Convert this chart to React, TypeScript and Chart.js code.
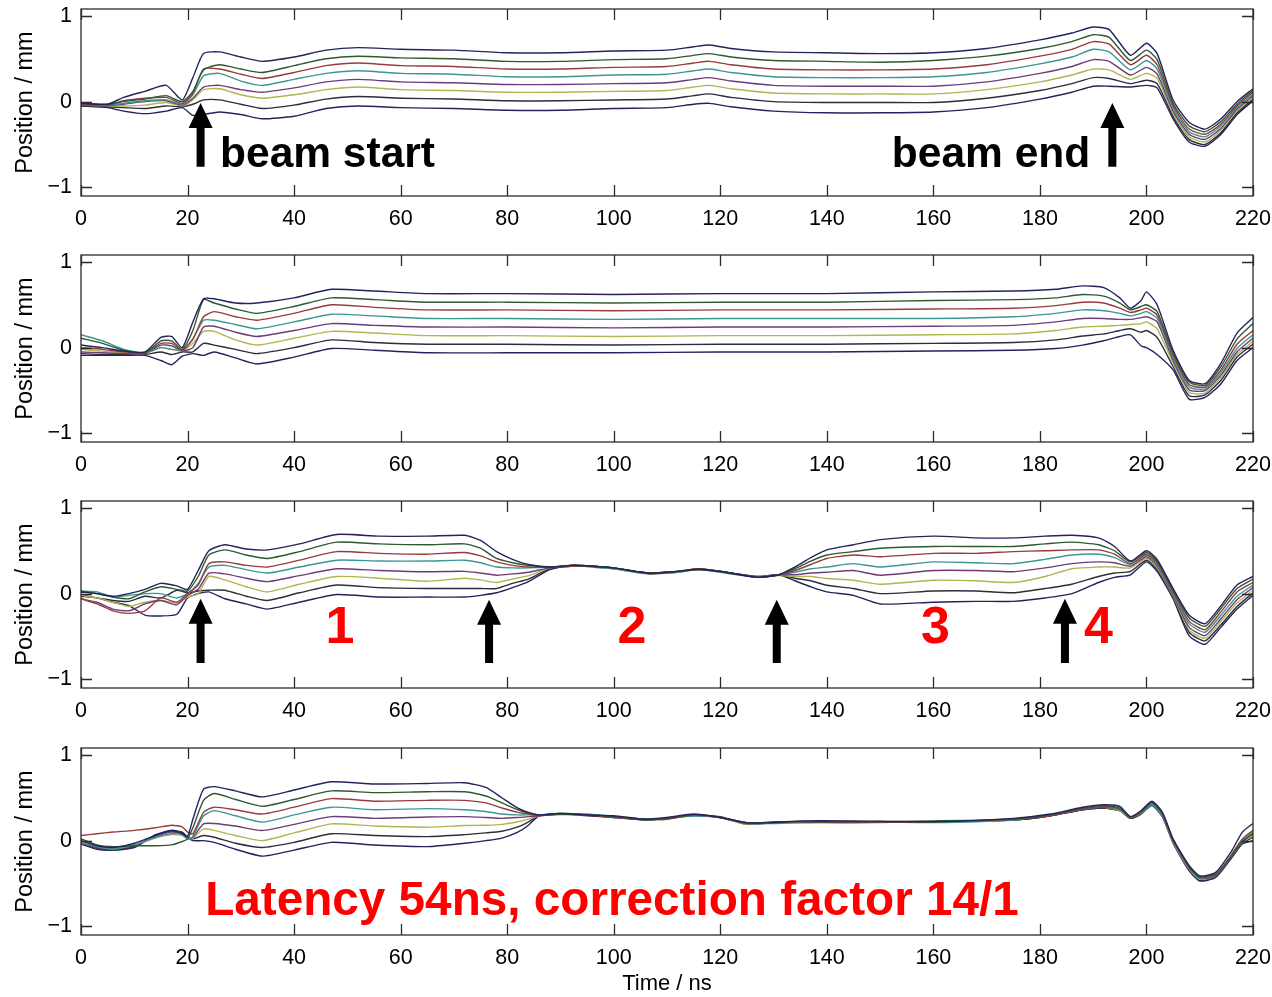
import React, { useEffect, useRef } from 'react';
import { Chart, registerables } from 'chart.js';

Chart.register(...registerables);

// ---------- axis ticks ----------
const X_TICKS = [0, 20, 40, 60, 80, 100, 120, 140, 160, 180, 200, 220];
const Y_TICKS = [-1, 0, 1];

// ---------- series colours (top line to bottom line) ----------
const LINE_COLORS = ['#23235e', '#2f5a2f', '#963c3c', '#3c9696', '#6e3c78', '#b4b450', '#2d2d3c', '#23235e'];

// ---------- panel 1 ----------
const P1_TIME = [0, 5, 8, 12, 16, 19, 21, 23, 26, 30, 34, 40, 46, 52, 60, 70, 80, 90, 100, 110, 115, 118, 122, 130, 140, 150, 160, 170, 180, 186, 190, 193, 197, 200, 202, 205, 208, 211, 214, 217, 220];
const P1_LINES = [
  [-0.02, -0.03, 0.05, 0.12, 0.19, 0.02, 0.28, 0.56, 0.58, 0.52, 0.47, 0.52, 0.60, 0.63, 0.61, 0.60, 0.57, 0.57, 0.59, 0.60, 0.64, 0.66, 0.62, 0.58, 0.57, 0.56, 0.57, 0.62, 0.72, 0.80, 0.87, 0.84, 0.54, 0.68, 0.56, 0.02, -0.24, -0.32, -0.20, 0.00, 0.15],
  [-0.02, -0.03, 0.00, 0.03, 0.07, 0.00, 0.12, 0.37, 0.43, 0.38, 0.34, 0.42, 0.50, 0.53, 0.51, 0.50, 0.47, 0.47, 0.49, 0.50, 0.54, 0.56, 0.52, 0.48, 0.47, 0.46, 0.48, 0.53, 0.62, 0.70, 0.78, 0.75, 0.48, 0.60, 0.49, -0.02, -0.28, -0.35, -0.23, -0.03, 0.13],
  [-0.03, -0.04, 0.01, 0.04, 0.05, -0.02, 0.10, 0.38, 0.38, 0.32, 0.27, 0.34, 0.42, 0.45, 0.42, 0.41, 0.38, 0.38, 0.40, 0.41, 0.45, 0.47, 0.43, 0.38, 0.37, 0.37, 0.38, 0.43, 0.53, 0.61, 0.70, 0.67, 0.43, 0.54, 0.43, -0.05, -0.32, -0.38, -0.26, -0.05, 0.11],
  [-0.03, -0.04, -0.02, 0.01, 0.02, -0.03, 0.08, 0.30, 0.33, 0.24, 0.19, 0.26, 0.33, 0.36, 0.33, 0.32, 0.29, 0.29, 0.31, 0.32, 0.36, 0.38, 0.34, 0.29, 0.28, 0.28, 0.29, 0.34, 0.44, 0.52, 0.61, 0.58, 0.37, 0.48, 0.38, -0.08, -0.35, -0.41, -0.28, -0.07, 0.09],
  [-0.04, -0.05, -0.03, 0.00, 0.01, -0.04, 0.04, 0.17, 0.19, 0.14, 0.11, 0.16, 0.23, 0.26, 0.23, 0.22, 0.20, 0.20, 0.21, 0.22, 0.26, 0.28, 0.24, 0.19, 0.18, 0.18, 0.18, 0.23, 0.33, 0.41, 0.49, 0.47, 0.31, 0.40, 0.32, -0.11, -0.38, -0.44, -0.31, -0.09, 0.07],
  [-0.04, -0.05, -0.05, -0.04, -0.01, -0.05, 0.02, 0.14, 0.15, 0.08, 0.04, 0.08, 0.14, 0.17, 0.14, 0.13, 0.11, 0.11, 0.12, 0.13, 0.17, 0.19, 0.15, 0.10, 0.09, 0.09, 0.09, 0.14, 0.23, 0.31, 0.38, 0.37, 0.26, 0.33, 0.27, -0.14, -0.41, -0.47, -0.33, -0.11, 0.05],
  [-0.05, -0.06, -0.07, -0.08, -0.05, -0.06, -0.03, 0.02, 0.02, -0.03, -0.08, -0.04, 0.03, 0.06, 0.04, 0.03, 0.01, 0.01, 0.02, 0.03, 0.07, 0.09, 0.05, 0.00, -0.01, -0.01, -0.01, 0.04, 0.13, 0.21, 0.28, 0.27, 0.21, 0.25, 0.21, -0.17, -0.44, -0.50, -0.36, -0.13, 0.03],
  [-0.05, -0.07, -0.11, -0.14, -0.11, -0.07, -0.16, -0.15, -0.12, -0.15, -0.20, -0.17, -0.08, -0.05, -0.07, -0.08, -0.10, -0.10, -0.08, -0.07, -0.03, -0.02, -0.06, -0.11, -0.13, -0.13, -0.12, -0.07, 0.03, 0.11, 0.18, 0.18, 0.17, 0.19, 0.16, -0.20, -0.47, -0.52, -0.38, -0.15, 0.01],
];

// ---------- panel 2 ----------
const P2_TIME = [0, 4, 8, 12, 15, 17, 19, 21, 23, 25, 29, 33, 40, 47, 55, 65, 80, 100, 120, 140, 160, 175, 183, 188, 192, 195, 197, 199, 200, 202, 205, 208, 211, 214, 217, 220];
const P2_LINES = [
  [0.03, 0.00, -0.04, -0.05, 0.12, 0.13, 0.00, 0.30, 0.57, 0.57, 0.52, 0.52, 0.58, 0.68, 0.66, 0.63, 0.63, 0.62, 0.63, 0.63, 0.65, 0.66, 0.68, 0.72, 0.70, 0.58, 0.46, 0.55, 0.65, 0.50, -0.03, -0.38, -0.42, -0.18, 0.17, 0.35],
  [0.11, 0.05, -0.03, -0.06, 0.08, 0.08, -0.02, 0.20, 0.56, 0.52, 0.45, 0.40, 0.48, 0.58, 0.56, 0.53, 0.53, 0.52, 0.53, 0.53, 0.55, 0.56, 0.58, 0.62, 0.60, 0.52, 0.44, 0.48, 0.50, 0.42, -0.06, -0.40, -0.44, -0.22, 0.10, 0.28],
  [0.00, -0.02, -0.05, -0.06, 0.05, 0.05, -0.03, 0.10, 0.36, 0.42, 0.36, 0.32, 0.40, 0.50, 0.47, 0.44, 0.44, 0.43, 0.44, 0.44, 0.45, 0.46, 0.49, 0.53, 0.52, 0.46, 0.41, 0.44, 0.46, 0.38, -0.09, -0.43, -0.46, -0.26, 0.04, 0.20],
  [0.15, 0.08, -0.02, -0.06, 0.00, -0.02, -0.03, 0.10, 0.32, 0.32, 0.27, 0.22, 0.30, 0.39, 0.37, 0.34, 0.34, 0.33, 0.34, 0.34, 0.34, 0.36, 0.40, 0.44, 0.43, 0.40, 0.37, 0.40, 0.42, 0.34, -0.12, -0.46, -0.48, -0.29, -0.01, 0.15],
  [-0.05, -0.06, -0.07, -0.07, 0.03, 0.02, -0.04, 0.00, 0.24, 0.25, 0.18, 0.13, 0.20, 0.28, 0.26, 0.24, 0.24, 0.23, 0.24, 0.24, 0.25, 0.26, 0.30, 0.34, 0.34, 0.33, 0.33, 0.35, 0.36, 0.30, -0.15, -0.49, -0.50, -0.32, -0.05, 0.11],
  [-0.02, -0.04, -0.06, -0.07, 0.00, -0.02, -0.04, 0.05, 0.19, 0.19, 0.09, 0.03, 0.11, 0.19, 0.17, 0.14, 0.14, 0.13, 0.14, 0.14, 0.15, 0.16, 0.20, 0.24, 0.25, 0.26, 0.27, 0.28, 0.30, 0.22, -0.18, -0.52, -0.53, -0.35, -0.08, 0.07],
  [-0.07, -0.08, -0.08, -0.08, -0.05, -0.08, -0.05, -0.05, 0.05, 0.03, -0.02, -0.07, 0.00, 0.09, 0.06, 0.04, 0.04, 0.03, 0.04, 0.04, 0.05, 0.06, 0.09, 0.135, 0.16, 0.20, 0.22, 0.18, 0.20, 0.12, -0.22, -0.56, -0.55, -0.38, -0.11, 0.04],
  [-0.09, -0.09, -0.09, -0.09, -0.15, -0.20, -0.10, -0.07, -0.09, -0.05, -0.12, -0.19, -0.11, -0.01, -0.03, -0.06, -0.06, -0.06, -0.05, -0.05, -0.04, -0.03, -0.01, 0.03, 0.08, 0.13, 0.15, 0.02, 0.00, -0.08, -0.26, -0.60, -0.58, -0.42, -0.15, 0.00],
];

// ---------- panel 3 ----------
const P3_TIME = [0, 3, 6, 9, 12, 15, 18, 20, 22, 24, 27, 31, 35, 41, 48, 56, 65, 72, 75, 78, 81, 84, 88, 92, 96, 100, 104, 107, 112, 116, 121, 127, 131, 134, 137, 140, 145, 150, 160, 168, 175, 181, 186, 191, 194, 197, 200, 202, 205, 208, 211, 214, 217, 220];
const P3_LINES = [
  [0.02, 0.00, -0.03, 0.00, 0.05, 0.12, 0.09, 0.05, 0.27, 0.50, 0.57, 0.52, 0.51, 0.58, 0.69, 0.67, 0.67, 0.68, 0.62, 0.49, 0.40, 0.34, 0.31, 0.33, 0.32, 0.30, 0.26, 0.235, 0.26, 0.285, 0.25, 0.19, 0.22, 0.31, 0.42, 0.51, 0.57, 0.63, 0.67, 0.65, 0.65, 0.67, 0.68, 0.65, 0.55, 0.38, 0.50, 0.40, 0.06, -0.25, -0.35, -0.14, 0.10, 0.20],
  [0.03, 0.00, -0.04, -0.06, 0.02, 0.08, 0.05, 0.03, 0.20, 0.45, 0.51, 0.45, 0.41, 0.49, 0.60, 0.58, 0.57, 0.58, 0.53, 0.41, 0.36, 0.33, 0.31, 0.33, 0.32, 0.30, 0.26, 0.24, 0.26, 0.28, 0.25, 0.19, 0.22, 0.29, 0.38, 0.45, 0.49, 0.53, 0.55, 0.55, 0.55, 0.58, 0.60, 0.57, 0.50, 0.37, 0.48, 0.38, 0.04, -0.28, -0.38, -0.17, 0.06, 0.17],
  [-0.06, -0.12, -0.20, -0.23, -0.20, -0.05, -0.10, 0.00, 0.10, 0.35, 0.37, 0.33, 0.31, 0.39, 0.49, 0.47, 0.46, 0.48, 0.44, 0.37, 0.33, 0.31, 0.31, 0.32, 0.32, 0.30, 0.26, 0.23, 0.26, 0.29, 0.25, 0.19, 0.22, 0.27, 0.34, 0.41, 0.45, 0.43, 0.47, 0.47, 0.49, 0.50, 0.51, 0.51, 0.46, 0.35, 0.46, 0.36, 0.02, -0.32, -0.42, -0.21, 0.02, 0.13],
  [0.03, 0.02, -0.04, -0.02, 0.00, 0.00, -0.05, 0.00, 0.12, 0.31, 0.33, 0.28, 0.24, 0.31, 0.39, 0.38, 0.38, 0.39, 0.36, 0.31, 0.30, 0.30, 0.31, 0.33, 0.31, 0.29, 0.25, 0.235, 0.25, 0.28, 0.24, 0.19, 0.22, 0.25, 0.29, 0.31, 0.35, 0.31, 0.37, 0.36, 0.35, 0.40, 0.45, 0.46, 0.42, 0.34, 0.45, 0.34, 0.00, -0.35, -0.45, -0.25, -0.03, 0.10],
  [-0.06, -0.10, -0.18, -0.20, -0.12, -0.08, -0.13, -0.02, 0.05, 0.24, 0.23, 0.18, 0.14, 0.21, 0.29, 0.27, 0.255, 0.26, 0.24, 0.215, 0.23, 0.25, 0.30, 0.32, 0.32, 0.30, 0.26, 0.24, 0.26, 0.29, 0.25, 0.20, 0.22, 0.22, 0.24, 0.25, 0.27, 0.215, 0.27, 0.27, 0.255, 0.30, 0.35, 0.37, 0.36, 0.32, 0.43, 0.32, -0.02, -0.39, -0.49, -0.29, -0.07, 0.07],
  [-0.02, -0.05, -0.10, -0.15, -0.10, -0.08, -0.11, -0.04, 0.00, 0.20, 0.16, 0.08, 0.02, 0.11, 0.20, 0.18, 0.145, 0.18, 0.16, 0.13, 0.17, 0.21, 0.30, 0.33, 0.31, 0.29, 0.25, 0.23, 0.25, 0.28, 0.24, 0.20, 0.21, 0.20, 0.20, 0.176, 0.156, 0.11, 0.156, 0.15, 0.13, 0.20, 0.29, 0.31, 0.31, 0.30, 0.41, 0.30, -0.03, -0.42, -0.52, -0.32, -0.11, 0.04],
  [-0.03, -0.05, -0.08, -0.09, -0.03, -0.05, 0.04, 0.01, 0.03, 0.04, 0.04, -0.03, -0.08, 0.01, 0.10, 0.07, 0.06, 0.06, 0.06, 0.06, 0.12, 0.17, 0.29, 0.32, 0.32, 0.30, 0.26, 0.24, 0.26, 0.28, 0.25, 0.19, 0.22, 0.18, 0.15, 0.098, 0.06, 0.00, 0.03, 0.03, 0.01, 0.06, 0.11, 0.20, 0.24, 0.26, 0.39, 0.28, -0.05, -0.45, -0.55, -0.36, -0.15, 0.01],
  [-0.01, -0.05, -0.10, -0.14, -0.25, -0.26, -0.24, -0.05, 0.00, 0.02, -0.06, -0.12, -0.18, -0.10, -0.01, -0.04, -0.04, -0.04, -0.02, 0.01, 0.07, 0.14, 0.28, 0.33, 0.32, 0.29, 0.26, 0.24, 0.25, 0.29, 0.25, 0.20, 0.22, 0.15, 0.08, 0.02, -0.02, -0.12, -0.10, -0.09, -0.09, -0.05, 0.00, 0.13, 0.19, 0.22, 0.37, 0.26, -0.06, -0.49, -0.59, -0.39, -0.18, -0.02],
];

// ---------- panel 4 ----------
const P4_TIME = [0, 3, 6, 10, 14, 17, 19, 20, 21, 23, 25, 29, 34, 40, 47, 55, 65, 72, 76, 79, 82, 84, 86, 90, 95, 100, 106, 110, 115, 120, 125, 130, 135, 145, 160, 175, 182, 188, 192, 195, 197, 199, 201, 203, 205, 208, 210, 213, 216, 218, 220];
const P4_LINES = [
  [0.00, -0.06, -0.08, -0.03, 0.06, 0.12, 0.08, 0.05, 0.25, 0.60, 0.63, 0.58, 0.51, 0.59, 0.686, 0.66, 0.667, 0.675, 0.62, 0.50, 0.38, 0.33, 0.30, 0.32, 0.30, 0.29, 0.25, 0.27, 0.31, 0.27, 0.21, 0.21, 0.23, 0.23, 0.22, 0.26, 0.31, 0.39, 0.42, 0.40, 0.28, 0.35, 0.46, 0.33, 0.02, -0.29, -0.41, -0.37, -0.12, 0.10, 0.20],
  [0.02, -0.05, -0.07, -0.06, -0.06, -0.05, -0.01, 0.02, 0.15, 0.47, 0.55, 0.48, 0.40, 0.48, 0.58, 0.56, 0.57, 0.57, 0.52, 0.44, 0.36, 0.32, 0.295, 0.31, 0.30, 0.28, 0.24, 0.26, 0.30, 0.28, 0.20, 0.22, 0.22, 0.22, 0.23, 0.25, 0.30, 0.38, 0.41, 0.38, 0.28, 0.34, 0.45, 0.32, 0.01, -0.30, -0.42, -0.39, -0.18, -0.01, 0.08],
  [0.06, 0.08, 0.10, 0.12, 0.15, 0.18, 0.16, 0.10, 0.08, 0.33, 0.39, 0.36, 0.31, 0.39, 0.49, 0.46, 0.47, 0.47, 0.44, 0.38, 0.33, 0.31, 0.29, 0.31, 0.30, 0.27, 0.25, 0.25, 0.30, 0.27, 0.21, 0.21, 0.22, 0.21, 0.22, 0.25, 0.29, 0.37, 0.40, 0.37, 0.27, 0.33, 0.44, 0.31, 0.00, -0.31, -0.43, -0.40, -0.16, 0.02, 0.12],
  [-0.02, -0.07, -0.10, -0.05, 0.04, 0.08, 0.07, 0.02, 0.05, 0.29, 0.35, 0.29, 0.216, 0.30, 0.39, 0.36, 0.373, 0.36, 0.34, 0.31, 0.30, 0.30, 0.30, 0.31, 0.31, 0.28, 0.24, 0.26, 0.29, 0.27, 0.20, 0.20, 0.21, 0.22, 0.21, 0.24, 0.30, 0.37, 0.40, 0.36, 0.27, 0.32, 0.43, 0.29, -0.01, -0.32, -0.44, -0.40, -0.17, 0.00, 0.10],
  [-0.03, -0.08, -0.10, -0.06, 0.05, 0.10, 0.08, 0.03, 0.04, 0.196, 0.20, 0.17, 0.118, 0.19, 0.28, 0.26, 0.275, 0.28, 0.27, 0.26, 0.27, 0.28, 0.29, 0.31, 0.30, 0.28, 0.25, 0.26, 0.30, 0.27, 0.20, 0.21, 0.22, 0.22, 0.22, 0.25, 0.30, 0.36, 0.39, 0.36, 0.27, 0.33, 0.43, 0.30, -0.01, -0.32, -0.44, -0.41, -0.18, -0.01, 0.09],
  [-0.03, -0.07, -0.09, -0.05, 0.03, 0.07, 0.06, 0.02, 0.03, 0.137, 0.12, 0.06, 0.00, 0.09, 0.196, 0.17, 0.157, 0.176, 0.18, 0.19, 0.22, 0.25, 0.29, 0.30, 0.30, 0.28, 0.245, 0.25, 0.30, 0.27, 0.19, 0.21, 0.22, 0.22, 0.22, 0.25, 0.30, 0.37, 0.39, 0.35, 0.27, 0.32, 0.42, 0.29, -0.02, -0.33, -0.45, -0.41, -0.18, -0.02, 0.06],
  [-0.04, -0.09, -0.11, -0.07, 0.06, 0.11, 0.09, 0.03, 0.02, 0.06, 0.04, -0.03, -0.08, -0.02, 0.08, 0.06, 0.047, 0.07, 0.09, 0.11, 0.16, 0.22, 0.29, 0.31, 0.30, 0.28, 0.24, 0.26, 0.30, 0.27, 0.20, 0.21, 0.22, 0.22, 0.22, 0.24, 0.29, 0.36, 0.38, 0.35, 0.26, 0.32, 0.42, 0.28, -0.02, -0.34, -0.46, -0.42, -0.19, -0.03, 0.04],
  [-0.04, -0.10, -0.11, -0.08, 0.07, 0.12, 0.10, 0.04, 0.00, 0.00, -0.02, -0.10, -0.18, -0.11, -0.02, -0.05, -0.07, -0.03, 0.00, 0.03, 0.10, 0.18, 0.29, 0.31, 0.29, 0.27, 0.24, 0.26, 0.29, 0.27, 0.19, 0.21, 0.21, 0.21, 0.22, 0.24, 0.29, 0.36, 0.38, 0.35, 0.26, 0.31, 0.41, 0.28, -0.03, -0.35, -0.47, -0.43, -0.20, -0.04, 0.00],
];

// ---------- annotations (data coordinates) ----------
const P1_ARROWS = [{ t: 22.45, tip: -0.015, tail: -0.76 }, { t: 193.6, tip: -0.015, tail: -0.76 }];
const P1_TEXTS = [
  { text: 'beam start', t: 26.1, y: -0.76, color: '#000000', size: 42.5, align: 'left' },
  { text: 'beam end', t: 152.2, y: -0.76, color: '#000000', size: 42.5, align: 'left' },
];
const P3_ARROWS = [
  { t: 22.45, tip: -0.06, tail: -0.81 },
  { t: 76.6, tip: -0.07, tail: -0.81 },
  { t: 130.6, tip: -0.07, tail: -0.81 },
  { t: 184.7, tip: -0.06, tail: -0.81 },
];
const P3_TEXTS = [
  { text: '1', t: 48.6, y: -0.58, color: '#ff0000', size: 52, align: 'center' },
  { text: '2', t: 103.4, y: -0.58, color: '#ff0000', size: 52, align: 'center' },
  { text: '3', t: 160.4, y: -0.58, color: '#ff0000', size: 52, align: 'center' },
  { text: '4', t: 191.0, y: -0.58, color: '#ff0000', size: 52, align: 'center' },
];
const P4_TEXTS = [
  { text: 'Latency 54ns, correction factor 14/1', t: 23.3, y: -0.866, color: '#ff0000', size: 47.7, align: 'left' },
];

const FONT = '"Liberation Sans", Arial, Helvetica, sans-serif';

type Arrow = { t: number; tip: number; tail: number };
type Label = { text: string; t: number; y: number; color: string; size: number; align: string };

interface PanelProps {
  top: number;
  height: number;
  time: number[];
  lines: number[][];
  xTitle?: string;
  arrows?: Arrow[];
  texts?: Label[];
}

function clearPadding(s: any) {
  s.paddingTop = 0;
  s.paddingBottom = 0;
  s.paddingLeft = 0;
  s.paddingRight = 0;
}

function Panel({ top, height, time, lines, xTitle, arrows = [], texts = [] }: PanelProps) {
  const ref = useRef<HTMLCanvasElement>(null);

  useEffect(() => {
    const canvas = ref.current;
    if (!canvas) return;
    const xAxisHeight = height - 196;

    const decor = {
      id: 'decor' + top,
      afterDatasetsDraw(chart: any) {
        const { ctx, chartArea: a, scales } = chart;
        const sx = scales.x;
        const sy = scales.y;
        ctx.save();
        // frame
        ctx.strokeStyle = '#2b2b2b';
        ctx.lineWidth = 1.3;
        ctx.strokeRect(a.left, a.top, a.right - a.left, a.bottom - a.top);
        // inward ticks on all four sides
        ctx.beginPath();
        const tl = 11;
        for (const v of X_TICKS) {
          const px = Math.round(sx.getPixelForValue(v)) + 0.5;
          ctx.moveTo(px, a.bottom);
          ctx.lineTo(px, a.bottom - tl);
          ctx.moveTo(px, a.top);
          ctx.lineTo(px, a.top + tl);
        }
        for (const v of Y_TICKS) {
          const py = Math.round(sy.getPixelForValue(v)) + 0.5;
          ctx.moveTo(a.left, py);
          ctx.lineTo(a.left + tl, py);
          ctx.moveTo(a.right, py);
          ctx.lineTo(a.right - tl, py);
        }
        ctx.stroke();

        // arrows
        ctx.fillStyle = '#000000';
        for (const ar of arrows) {
          const cx = sx.getPixelForValue(ar.t);
          const yTip = sy.getPixelForValue(ar.tip);
          const yTail = sy.getPixelForValue(ar.tail);
          const headW = 24;
          const headL = 25;
          const shaftW = 8;
          ctx.beginPath();
          ctx.moveTo(cx, yTip);
          ctx.lineTo(cx + headW / 2, yTip + headL);
          ctx.lineTo(cx + shaftW / 2, yTip + headL);
          ctx.lineTo(cx + shaftW / 2, yTail);
          ctx.lineTo(cx - shaftW / 2, yTail);
          ctx.lineTo(cx - shaftW / 2, yTip + headL);
          ctx.lineTo(cx - headW / 2, yTip + headL);
          ctx.closePath();
          ctx.fill();
        }

        // texts
        for (const tx of texts) {
          ctx.font = `bold ${tx.size}px ${FONT}`;
          ctx.fillStyle = tx.color;
          ctx.textAlign = tx.align as CanvasTextAlign;
          ctx.textBaseline = 'alphabetic';
          ctx.fillText(tx.text, sx.getPixelForValue(tx.t), sy.getPixelForValue(tx.y));
        }
        ctx.restore();
      },
    };

    const chart = new Chart(canvas, {
      type: 'line',
      data: {
        datasets: lines.map((ys, i) => ({
          label: 'trace ' + (i + 1),
          data: time.map((t, j) => ({ x: t, y: ys[j] })),
          borderColor: LINE_COLORS[i],
          borderWidth: 1.4,
          pointRadius: 0,
          tension: 0.2,
          fill: false,
        })),
      },
      options: {
        responsive: false,
        animation: false,
        events: [],
        layout: { autoPadding: false, padding: { left: 0, right: 19, top: 9, bottom: 0 } },
        plugins: {
          legend: { display: false },
          tooltip: { enabled: false },
        },
        scales: {
          x: {
            type: 'linear',
            min: 0,
            max: 220,
            afterBuildTicks: (s: any) => {
              s.ticks = X_TICKS.map((v) => ({ value: v }));
            },
            afterFit: (s: any) => {
              s.height = xAxisHeight;
              clearPadding(s);
            },
            grid: { display: false, drawTicks: false },
            border: { display: false },
            ticks: {
              color: '#000000',
              font: { family: FONT, size: 21.5 },
              padding: 10,
              maxRotation: 0,
              autoSkip: false,
            },
            title: {
              display: !!xTitle,
              text: xTitle || '',
              color: '#000000',
              font: { family: FONT, size: 22 },
              padding: { top: 0, bottom: 0 },
            },
          },
          y: {
            type: 'linear',
            min: -1.1,
            max: 1.08,
            afterBuildTicks: (s: any) => {
              s.ticks = Y_TICKS.map((v) => ({ value: v }));
            },
            afterFit: (s: any) => {
              s.width = 81;
              clearPadding(s);
            },
            grid: { display: false, drawTicks: false },
            border: { display: false },
            ticks: {
              color: '#000000',
              font: { family: FONT, size: 21.5 },
              padding: 9,
              callback: (v: any) => (Number(v) < 0 ? '\u2212' + Math.abs(Number(v)) : String(v)),
            },
            title: {
              display: true,
              text: 'Position / mm',
              color: '#000000',
              font: { family: FONT, size: 23.5 },
              padding: { top: 11, bottom: 0 },
            },
          },
        },
      },
      plugins: [decor],
    } as any);

    return () => chart.destroy();
  }, []);

  return (
    <canvas
      ref={ref}
      width={1272}
      height={height}
      style={{ position: 'absolute', left: 0, top, width: 1272, height, display: 'block' }}
    />
  );
}

export default function App() {
  return (
    <div style={{ position: 'absolute', left: 0, top: 0, width: 1272, height: 997, background: '#ffffff' }}>
      <Panel top={0} height={246} time={P1_TIME} lines={P1_LINES} arrows={P1_ARROWS} texts={P1_TEXTS} />
      <Panel top={246} height={246} time={P2_TIME} lines={P2_LINES} />
      <Panel top={492} height={246} time={P3_TIME} lines={P3_LINES} arrows={P3_ARROWS} texts={P3_TEXTS} />
      <Panel top={739} height={258} time={P4_TIME} lines={P4_LINES} xTitle="Time / ns" texts={P4_TEXTS} />
    </div>
  );
}
